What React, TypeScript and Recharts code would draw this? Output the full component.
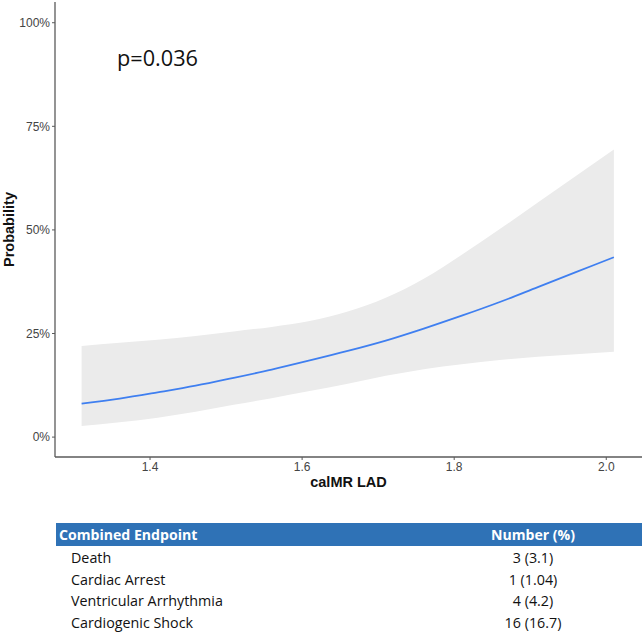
import React from "react";
import { ComposedChart, Area, Line, XAxis, YAxis, Label } from "recharts";

const xValues = [1.31, 1.36, 1.41, 1.46, 1.51, 1.56, 1.61, 1.66, 1.71, 1.76, 1.81, 1.86, 1.91, 1.96, 2.01];
const fitted = [8.1, 9.3, 10.8, 12.4, 14.3, 16.3, 18.5, 20.8, 23.3, 26.2, 29.3, 32.6, 36.2, 39.8, 43.4];
const lowerCI = [2.7, 3.6, 4.7, 6.1, 7.8, 9.4, 11.1, 12.9, 14.8, 16.4, 17.6, 18.6, 19.4, 20.0, 20.6];
const upperCI = [22.0, 22.8, 23.5, 24.4, 25.5, 26.6, 28.0, 30.3, 33.6, 38.2, 44.0, 50.2, 56.6, 63.0, 69.4];

const xTicks = [1.4, 1.6, 1.8, 2.0];
const yTicks = [0, 25, 50, 75, 100];

const pValueText = "p=0.036";
const tableHeader = ["Combined Endpoint", "Number (%)"];
const endpoints = ["Death", "Cardiac Arrest", "Ventricular Arrhythmia", "Cardiogenic Shock"];
const counts = ["3 (3.1)", "1 (1.04)", "4 (4.2)", "16 (16.7)"];

const data = xValues.map((x, i) => ({
  x,
  fit: fitted[i],
  band: [lowerCI[i], upperCI[i]],
}));

const axisColor = "#5a5a5a";
const tickStyle = { fontFamily: "'Liberation Sans', Arial, sans-serif", fontSize: 12, fill: "#444" };
const tableFont = "'Open Sans', sans-serif";

export default function App() {
  return (
    <div style={{ position: "absolute", left: 0, top: 0, width: 644, height: 635, background: "#fff", overflow: "hidden" }}>
      <ComposedChart width={644} height={492} data={data} margin={{ top: 2, right: 2, bottom: 0, left: 0 }}>
        <XAxis
          dataKey="x"
          type="number"
          domain={[1.275, 2.047]}
          allowDataOverflow
          ticks={xTicks}
          tickFormatter={(v: number) => v.toFixed(1)}
          height={35}
          tickSize={3}
          tickMargin={2}
          tick={tickStyle}
          axisLine={{ stroke: axisColor, strokeWidth: 1.3 }}
          tickLine={{ stroke: axisColor }}
        >
          <Label
            content={(props: any) => {
              const vb = props.viewBox;
              return (
                <text
                  x={vb.x + vb.width / 2}
                  y={vb.y + 25}
                  textAnchor="middle"
                  dominantBaseline="central"
                  style={{ fontFamily: "'Liberation Sans', Arial, sans-serif", fontSize: 14.5, fontWeight: "bold", fill: "#111" }}
                >
                  calMR LAD
                </text>
              );
            }}
          />
        </XAxis>
        <YAxis
          type="number"
          domain={[-4.8, 105]}
          allowDataOverflow
          ticks={yTicks}
          tickFormatter={(v: number) => `${v}%`}
          width={55}
          tickSize={3}
          tickMargin={2}
          tick={tickStyle}
          axisLine={{ stroke: axisColor, strokeWidth: 1.3 }}
          tickLine={{ stroke: axisColor }}
        >
          <Label
            content={(props: any) => {
              const vb = props.viewBox;
              const cy = vb.y + vb.height / 2;
              return (
                <text
                  x={9}
                  y={cy}
                  transform={`rotate(-90 9 ${cy})`}
                  textAnchor="middle"
                  dominantBaseline="central"
                  style={{ fontFamily: "'Liberation Sans', Arial, sans-serif", fontSize: 14.5, fontWeight: "bold", fill: "#111" }}
                >
                  Probability
                </text>
              );
            }}
          />
        </YAxis>
        <Area
          dataKey="band"
          type="monotone"
          stroke="none"
          fill="#ebebeb"
          fillOpacity={1}
          isAnimationActive={false}
          activeDot={false}
        />
        <Line
          dataKey="fit"
          type="monotone"
          stroke="#3f7ff0"
          strokeWidth={1.8}
          dot={false}
          activeDot={false}
          isAnimationActive={false}
        />
      </ComposedChart>

      <div
        style={{
          position: "absolute",
          left: 117,
          top: 42,
          fontFamily: "'Open Sans', sans-serif",
          fontSize: 21.7,
          lineHeight: "32px",
          color: "#111",
          whiteSpace: "nowrap",
        }}
      >
        {pValueText}
      </div>

      <div style={{ position: "absolute", left: 56, top: 523, width: 586, height: 23, background: "#2f72b6" }} />
      <div
        style={{
          position: "absolute",
          left: 59,
          top: 523,
          height: 23,
          lineHeight: "23px",
          fontFamily: tableFont,
          fontWeight: 700,
          fontSize: 14.1,
          color: "#fff",
          whiteSpace: "nowrap",
        }}
      >
        {tableHeader[0]}
      </div>
      <div
        style={{
          position: "absolute",
          left: 433,
          width: 200,
          top: 523,
          height: 23,
          lineHeight: "23px",
          textAlign: "center",
          fontFamily: tableFont,
          fontWeight: 700,
          fontSize: 14.1,
          color: "#fff",
          whiteSpace: "nowrap",
        }}
      >
        {tableHeader[1]}
      </div>
      {endpoints.map((name, i) => (
        <React.Fragment key={name}>
          <div
            style={{
              position: "absolute",
              left: 71,
              top: 558 + i * 21.7 - 11,
              height: 22,
              lineHeight: "22px",
              fontFamily: tableFont,
              fontSize: 14.3,
              color: "#111",
              whiteSpace: "nowrap",
            }}
          >
            {name}
          </div>
          <div
            style={{
              position: "absolute",
              left: 433,
              width: 200,
              top: 558 + i * 21.7 - 11,
              height: 22,
              lineHeight: "22px",
              textAlign: "center",
              fontFamily: tableFont,
              fontSize: 14.3,
              color: "#111",
              whiteSpace: "nowrap",
            }}
          >
            {counts[i]}
          </div>
        </React.Fragment>
      ))}
    </div>
  );
}
